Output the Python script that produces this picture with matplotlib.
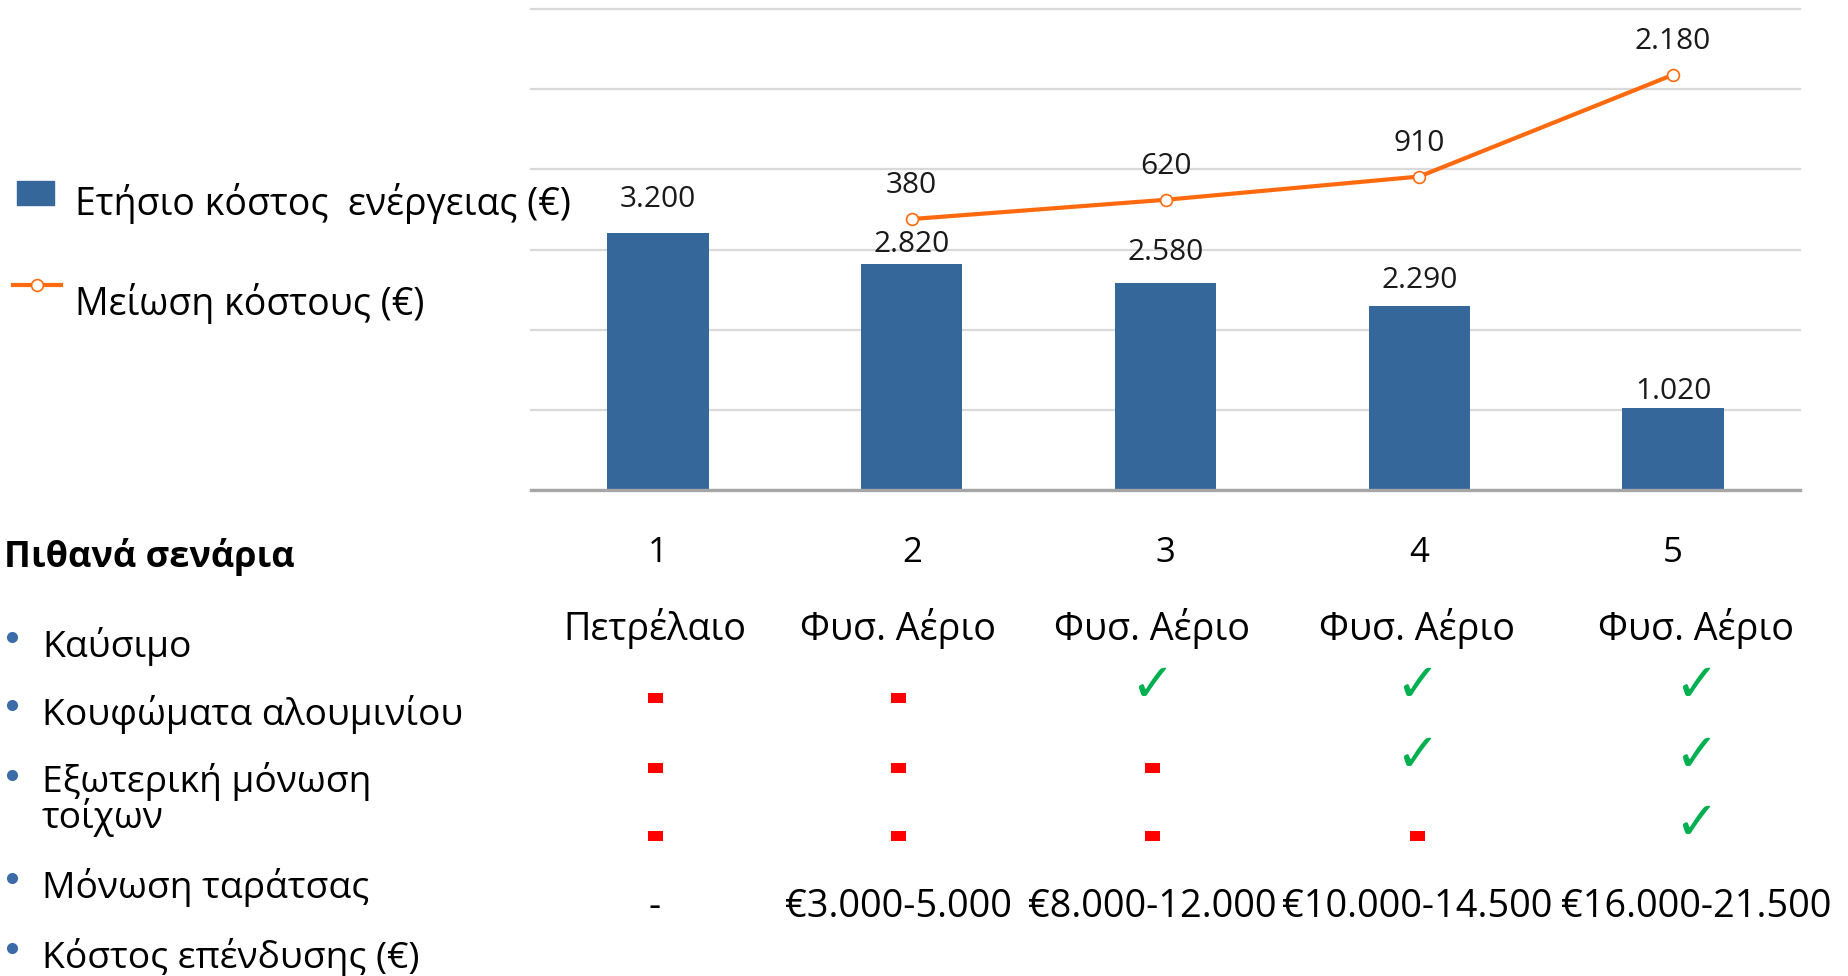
import matplotlib
matplotlib.use('Agg')
import matplotlib.pyplot as plt
import numpy as np
from matplotlib.lines import Line2D
from matplotlib.patches import Rectangle
import matplotlib.transforms as mtransforms

plt.rcParams['font.family'] = ['Open Sans', 'DejaVu Sans']

# data
scenarios = ['1', '2', '3', '4', '5']
annual_cost = [3200, 2820, 2580, 2290, 1020]
cost_reduction = [np.nan, 380, 620, 910, 2180]
annual_labels = ['3.200', '2.820', '2.580', '2.290', '1.020']
reduction_labels = ['', '380', '620', '910', '2.180']

fuel = ['Πετρέλαιο', 'Φυσ. Αέριο', 'Φυσ. Αέριο', 'Φυσ. Αέριο', 'Φυσ. Αέριο']
windows = [False, False, True, True, True]
wall_insulation = [False, False, False, True, True]
roof_insulation = [False, False, False, False, True]
invest_cost = ['-', '€3.000-5.000', '€8.000-12.000', '€10.000-14.500', '€16.000-21.500']

row_labels = ['Καύσιμο', 'Κουφώματα αλουμινίου', 'Εξωτερική μόνωση\nτοίχων',
              'Μόνωση ταράτσας', 'Κόστος επένδυσης (€)']

bar_color = '#35679A'
line_color = '#FF6A0E'
W, H = 1849, 976

def fx(px):
    return px / W

def fy(py):
    return 1 - py / H

fig = plt.figure(figsize=(W / 100, H / 100), dpi=100)
ax = fig.add_axes([fx(531), fy(490), fx(1800) - fx(531), fy(9) - fy(490)])
x = np.arange(len(scenarios))

ax.bar(x, annual_cost, width=0.4, color=bar_color, zorder=2)
ax.set_xlim(-0.5, 4.5)
ax.set_ylim(0, 6000)
ax.set_yticks(np.arange(0, 6001, 1000))
ax.set_xticks([])
ax.grid(axis='y', color='#D9D9D9', linewidth=1.6, zorder=0)
ax.set_axisbelow(True)
for gl in ax.get_ygridlines():
    gl.set_clip_on(False)
for s in ['top', 'right', 'left']:
    ax.spines[s].set_visible(False)
ax.spines['bottom'].set_color('#A6A6A6')
ax.spines['bottom'].set_linewidth(2.4)
ax.spines['bottom'].set_zorder(3)

# per-label gap above bar top (points)
bar_gap = [18.7, 8.6, 16.6, 13, 6.5]
for i, v in enumerate(annual_cost):
    ax.annotate(annual_labels[i], (x[i], v), xytext=(0, bar_gap[i]), textcoords='offset points',
                ha='center', va='baseline', fontsize=21.5, color='#1a1a1a')

ax2 = ax.twinx()
ax2.set_ylim(-3000, 3000)
ax2.axis('off')
ax.tick_params(axis='y', left=False, right=False, labelleft=False, labelright=False)
ax2.plot(x, cost_reduction, color=line_color, linewidth=3, marker='o', markersize=8.5,
         markerfacecolor='white', markeredgecolor=line_color, markeredgewidth=1.2, zorder=4)
for i, v in enumerate(cost_reduction):
    if np.isnan(v):
        continue
    ax2.annotate(reduction_labels[i], (x[i], v), xytext=(0, 18.7), textcoords='offset points',
                 ha='center', va='baseline', fontsize=21.5, color='#1a1a1a')

# legend
fig.add_artist(Rectangle((fx(17), fy(205)), fx(54) - fx(17), fy(181) - fy(205),
                         transform=fig.transFigure, color=bar_color))
fig.add_artist(Line2D([fx(13), fx(61)], [fy(285), fy(285)], transform=fig.transFigure,
                      color=line_color, linewidth=3))
fig.add_artist(Line2D([fx(37)], [fy(285)], transform=fig.transFigure, marker='o',
                      markersize=8.5, markerfacecolor='white', markeredgecolor=line_color,
                      markeredgewidth=1.2))
fig.text(fx(75), fy(215), 'Ετήσιο κόστος  ενέργειας (€)', fontsize=27, va='baseline')
fig.text(fx(75), fy(315), 'Μείωση κόστους (€)', fontsize=27, va='baseline')

# scenario numbers under the axis
blend = mtransforms.blended_transform_factory(ax.transData, fig.transFigure)
for i, s in enumerate(scenarios):
    ax.text(x[i], fy(562), s, transform=blend, ha='center', va='baseline', fontsize=25)

# table on the left (baseline of the last line of each label)
fig.text(fx(4), fy(567), 'Πιθανά σενάρια', fontsize=26, fontweight='bold', va='baseline')
label_base = [657, 725, 828, 898, 968]
bullet_y = [637, 705, 775, 878, 948]
for lab, b, by in zip(row_labels, label_base, bullet_y):
    fig.text(fx(42), fy(b), lab, fontsize=26.8, va='baseline', linespacing=0.9)
    fig.add_artist(Line2D([fx(12)], [fy(by)], transform=fig.transFigure, marker='o',
                          markersize=8, color='#3C6CA8', markeredgewidth=0))

# table columns
col_x = [655, 898, 1152, 1417, 1696]
dash = [(-1.5, -1), (1.5, -1), (1.5, 1), (-1.5, 1), (-1.5, -1)]
for i in range(len(scenarios)):
    cx = fx(col_x[i])
    fig.text(cx, fy(640), fuel[i], fontsize=27.2, ha='center', va='baseline')
    fig.text(cx, fy(917), invest_cost[i], fontsize=27.3, ha='center', va='baseline')
    for flags, yc in [(windows, 698), (wall_insulation, 768), (roof_insulation, 836)]:
        if flags[i]:
            fig.text(cx, fy(yc - 12), '✓', fontsize=38, ha='center', va='center',
                     color='#00B050', family='DejaVu Sans', fontweight='bold')
        else:
            fig.add_artist(Line2D([cx], [fy(yc)], transform=fig.transFigure, marker=dash,
                                  markersize=10.8, color='#FF0000', markeredgewidth=0))

fig.savefig('out.png', dpi=100)
